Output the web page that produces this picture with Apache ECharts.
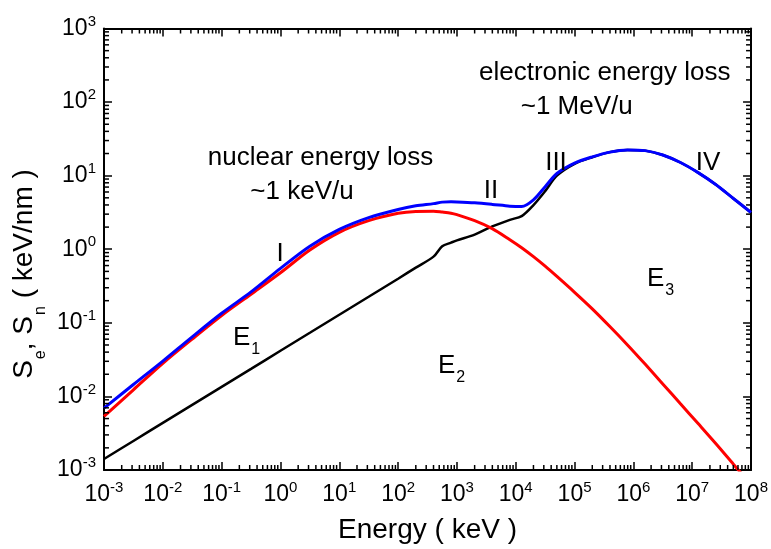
<!DOCTYPE html>
<html><head><meta charset="utf-8">
<script src="https://cdn.jsdelivr.net/npm/echarts@6/dist/echarts.min.js"></script>
<style>html,body{margin:0;padding:0;background:#fff}#c{width:771px;height:549px}</style>
</head><body><div id="c"></div>
<script>
// Energy grid (keV)
const energy = [1e-3, 3.16e-3, 1e-2, 3.16e-2, 0.1, 0.316, 1, 3.16, 10, 31.6, 100, 200, 400, 562, 794, 1000,
  2000, 3980, 7940, 12600, 20000, 31600, 50100, 1e5, 2e5, 3.98e5, 7.94e5, 1.58e6, 3.16e6, 6.31e6, 1.26e7, 2.51e7, 5.01e7, 1e8];
// Electronic stopping Se (black)
const electronic = [1.41e-3, 2.48e-3, 4.37e-3, 7.67e-3, 0.0135, 0.0237, 0.0417, 0.0733, 0.129, 0.226, 0.398, 0.562, 0.794, 1.10, 1.23, 1.32,
  1.58, 2.04, 2.51, 2.82, 3.98, 6.17, 10.0, 14.5, 17.8, 20.9, 22.4, 21.9, 19.1, 15.1, 11.0, 7.59, 4.90, 3.16];
// Nuclear stopping Sn (red)
const nuclear = [5.37e-3, 0.0123, 0.0282, 0.0603, 0.126, 0.245, 0.479, 0.977, 1.70, 2.45, 3.09, 3.27, 3.29, 3.20, 3.09, 2.95,
  2.45, 1.91, 1.35, 1.05, 0.794, 0.589, 0.427, 0.260, 0.155, 0.0891, 0.0501, 0.0275, 0.0148, 7.94e-3, 4.27e-3, 2.29e-3, 1.20e-3, 6.3e-4];
// Total stopping (blue)
const total = [6.92e-3, 0.0145, 0.0302, 0.0646, 0.135, 0.263, 0.550, 1.10, 1.86, 2.69, 3.47, 3.89, 4.17, 4.37, 4.42, 4.40,
  4.27, 4.07, 3.85, 3.80, 4.68, 7.08, 10.7, 14.8, 18.0, 20.9, 22.4, 21.9, 19.1, 15.1, 11.0, 7.59, 4.90, 3.16];

const xRange = [1e-3, 1e8];
const yRange = [1e-3, 1e3];

const FONT = '"Liberation Sans", Arial, Helvetica, sans-serif';

function minorValues(lo, hi) {
  const out = [];
  for (let k = lo; k < hi; k++) for (let m = 2; m <= 9; m++) out.push(Number(m + 'e' + k));
  return out;
}
const xMinor = minorValues(-3, 8);
const yMinor = minorValues(-3, 3);

const labelRich = {
  b: { fontSize: 23, fontFamily: FONT, color: '#000' },
  s: { fontSize: 15, fontFamily: FONT, color: '#000', padding: [0, 0, 14, 0] }
};
const powFmt = v => '{b|10}{s|' + Math.round(Math.log10(v)) + '}';

function axisBase(range, pos) {
  return {
    type: 'log', logBase: 10, min: range[0], max: range[1], position: pos, interval: 1,
    splitLine: { show: false },
    axisLine: { show: true, lineStyle: { color: '#000', width: 2 } },
    axisTick: { show: true, inside: true, length: 8, lineStyle: { color: '#000', width: 1.5 } },
    axisLabel: { show: false },
    gridIndex: 0
  };
}

const xMain = axisBase(xRange, 'bottom');
xMain.axisLabel = { show: true, margin: 10, formatter: powFmt, rich: labelRich };
xMain.name = 'Energy ( keV )';
xMain.nameLocation = 'middle';
xMain.nameGap = 46;
xMain.nameTextStyle = { fontSize: 28, fontFamily: FONT, color: '#000' };

const yMain = axisBase(yRange, 'left');
yMain.axisLabel = { show: true, margin: 8, formatter: powFmt, rich: labelRich };

const chart = echarts.init(document.getElementById('c'));

function txt(x, y, text, size, align) {
  return { type: 'text', x: x, y: y, z: 10,
    style: { text: text, fontSize: size, fontFamily: FONT, fill: '#000', align: align || 'center', verticalAlign: 'middle' } };
}
function sub(x, y, main, s) {
  return { type: 'text', x: x, y: y, z: 10,
    style: { text: '{e|' + main + '}{s|' + s + '}', align: 'left', verticalAlign: 'middle',
      rich: { e: { fontSize: 26, fontFamily: FONT, fill: '#000', color: '#000' },
              s: { fontSize: 16, fontFamily: FONT, fill: '#000', color: '#000', padding: [24, 0, 0, 1] } } } };
}

const TICK = 5;
function tickSeries(values, isX, atMax, dir) {
  return {
    type: 'custom', z: 6,
    data: values.map(v => isX ? [v, 1] : [1, v]),
    renderItem: (params, api) => {
      const p = isX
        ? api.coord([api.value(0), atMax ? yRange[1] : yRange[0]])
        : api.coord([atMax ? xRange[1] : xRange[0], api.value(1)]);
      const x2 = isX ? p[0] : p[0] + dir * TICK;
      const y2 = isX ? p[1] + dir * TICK : p[1];
      return { type: 'line', shape: { x1: p[0], y1: p[1], x2: x2, y2: y2 }, style: { stroke: '#000', lineWidth: 1.5 } };
    }
  };
}

chart.setOption({
  animation: false,
  backgroundColor: '#fff',
  grid: { left: 104, right: 18.5, top: 28.5, bottom: 77.3, containLabel: false },
  xAxis: [xMain, axisBase(xRange, 'top')],
  yAxis: [yMain, axisBase(yRange, 'right')],
  series: [
    { type: 'line', data: energy.map((e, i) => [e, electronic[i]]), showSymbol: false, smooth: 0.3,
      lineStyle: { color: '#000', width: 2.5 }, itemStyle: { color: '#000' }, z: 2 },
    { type: 'line', data: energy.map((e, i) => [e, nuclear[i]]), showSymbol: false, smooth: 0.3,
      lineStyle: { color: '#ff0000', width: 3 }, itemStyle: { color: '#ff0000' }, z: 3 },
    { type: 'line', data: energy.map((e, i) => [e, total[i]]), showSymbol: false, smooth: 0.3,
      lineStyle: { color: '#0000ff', width: 3 }, itemStyle: { color: '#0000ff' }, z: 4 },
    tickSeries(xMinor, true, false, -1),
    tickSeries(xMinor, true, true, 1),
    tickSeries(yMinor, false, false, 1),
    tickSeries(yMinor, false, true, -1)
  ],
  graphic: [
    { type: 'text', x: 24, y: 274, rotation: Math.PI / 2, z: 10,
      style: { text: '{m|S}{s|e}{m|, S}{s|n}{m| ( keV/nm )}', align: 'center', verticalAlign: 'middle',
        rich: { m: { fontSize: 28, fontFamily: FONT, fill: '#000', color: '#000' },
                s: { fontSize: 16, fontFamily: FONT, fill: '#000', color: '#000', padding: [34, 0, 0, 1] } } } },
    txt(320.5, 158, 'nuclear energy loss', 26),
    txt(302, 191.5, '~1 keV/u', 26),
    txt(604.7, 73, 'electronic energy loss', 26),
    txt(576.7, 106.5, '~1 MeV/u', 26),
    txt(280, 254, 'I', 26),
    txt(491, 191, 'II', 26),
    txt(556, 162.5, 'III', 26),
    txt(708, 162.5, 'IV', 26),
    sub(233, 338, 'E', '1'),
    sub(438, 366, 'E', '2'),
    sub(647, 278.5, 'E', '3')
  ]
});
</script></body></html>
